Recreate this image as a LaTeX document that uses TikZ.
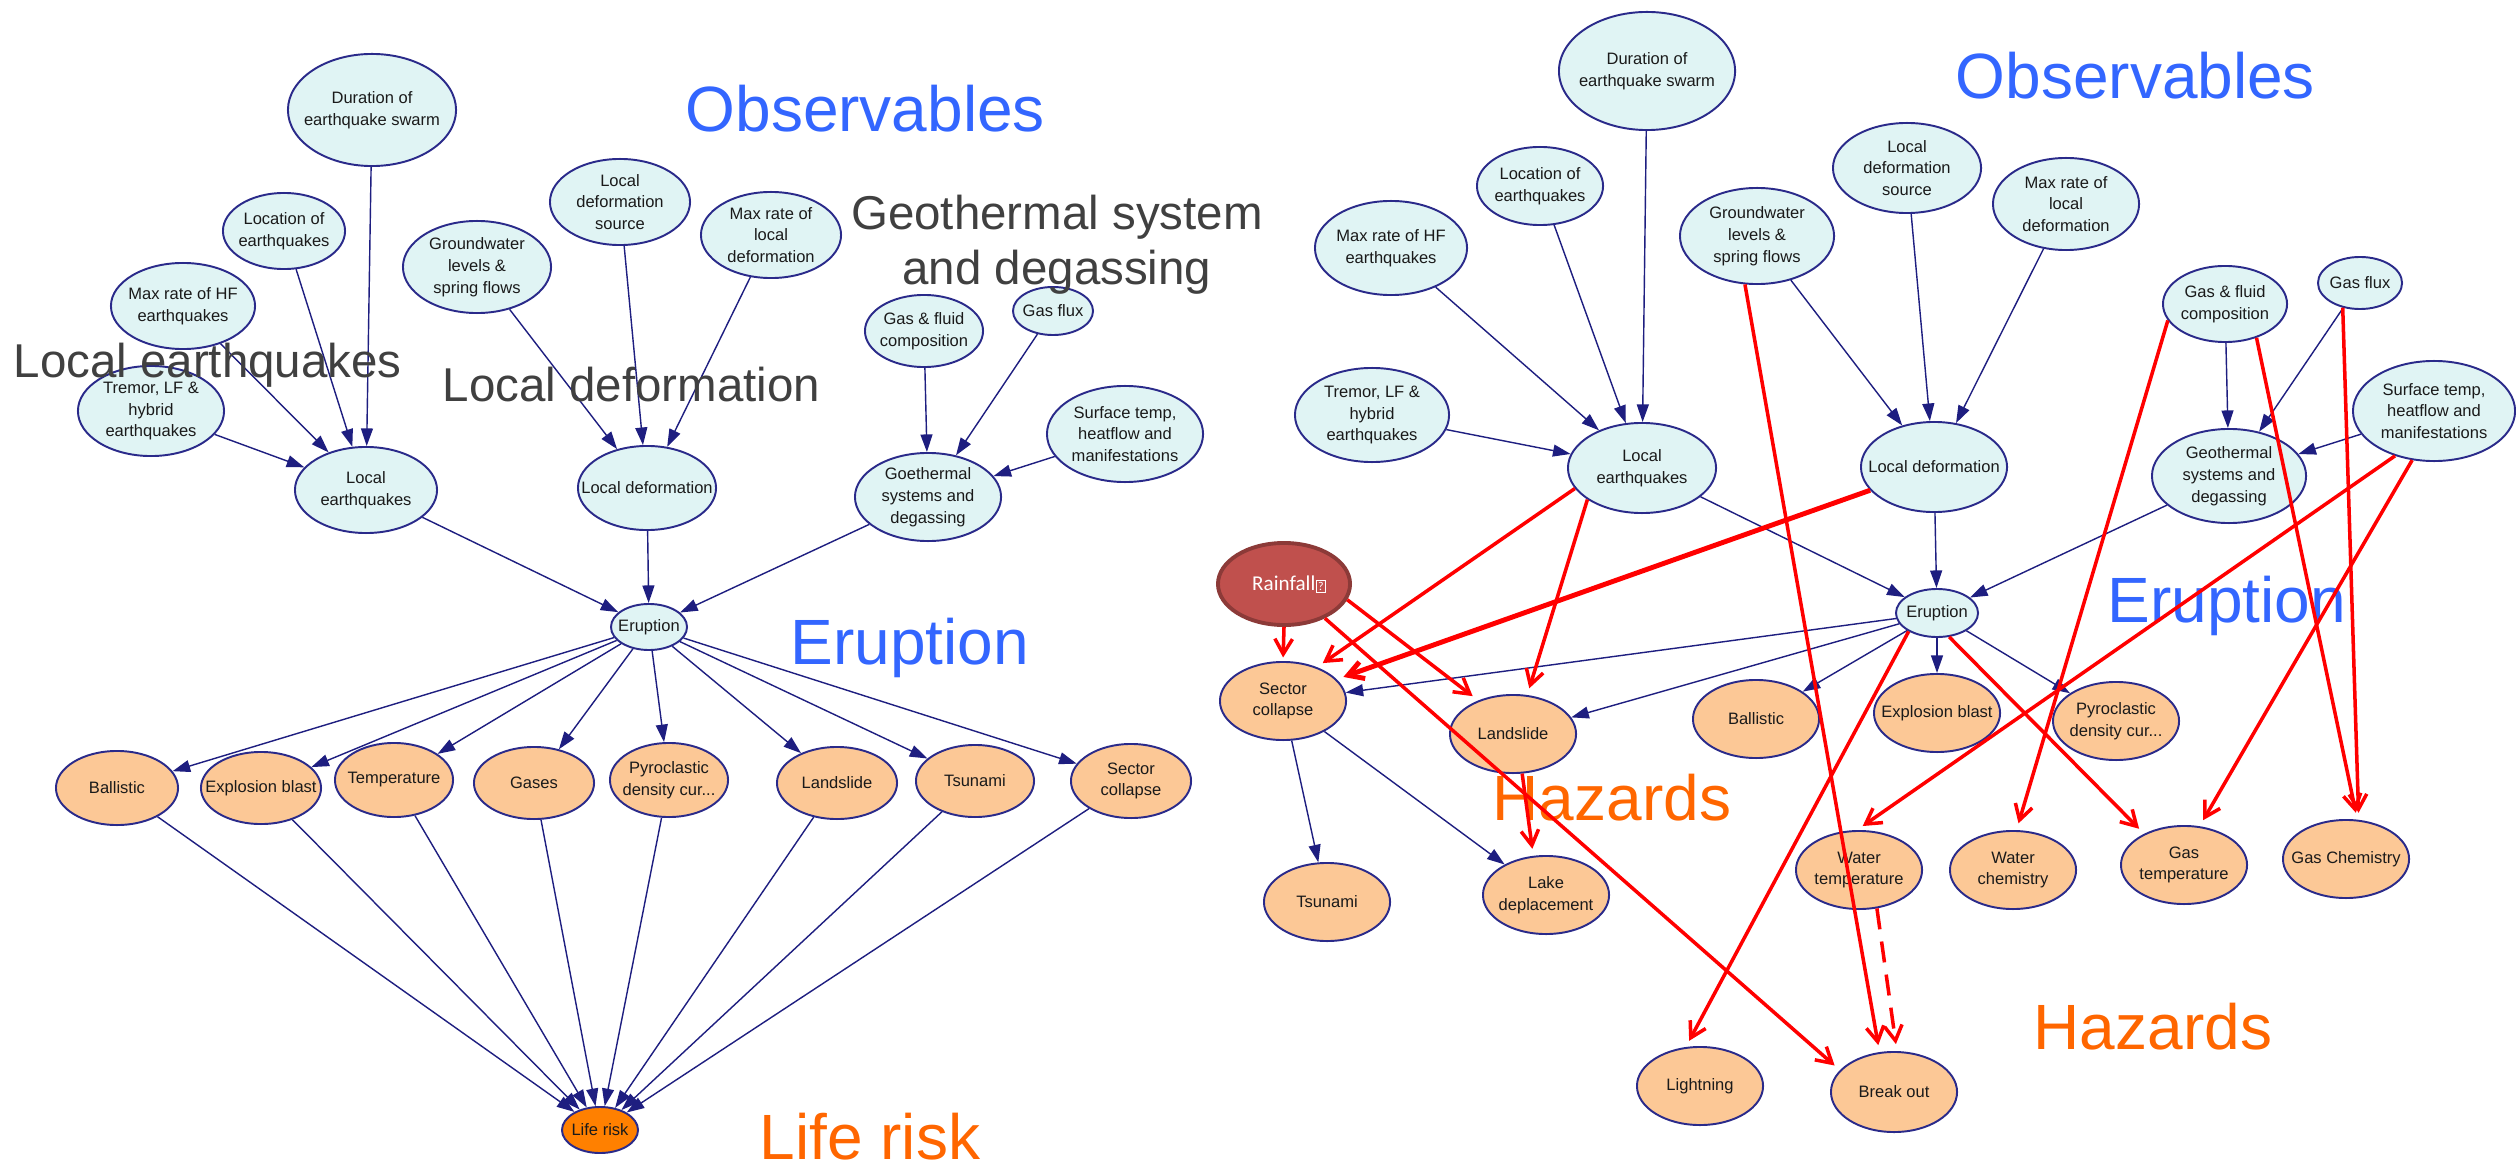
\documentclass[tikz,border=0pt]{standalone}
\usepackage{fontspec}
\setmainfont{Liberation Sans}
\newfontfamily\calibfont{Carlito}
\usetikzlibrary{shapes.geometric,arrows.meta}

\definecolor{obsfill}{HTML}{E0F4F4}
\definecolor{hazfill}{HTML}{FCC896}
\definecolor{riskfill}{HTML}{FF8000}
\definecolor{edgenavy}{HTML}{1E1E80}
\definecolor{rimnavy}{HTML}{2A2A8A}
\definecolor{titleblue}{HTML}{3366FF}
\definecolor{titleorange}{HTML}{FF6600}
\definecolor{titlegray}{HTML}{404040}
\definecolor{rainfill}{HTML}{C0504D}
\definecolor{rainrim}{HTML}{8C3A38}
\definecolor{hotred}{HTML}{FF0000}
\definecolor{nodetext}{HTML}{1A1A1A}

\tikzset{
  bubble/.style={ellipse, draw=rimnavy, line width=0.55pt, inner sep=0pt},
  obs/.style={bubble, fill=obsfill},
  haz/.style={bubble, fill=hazfill},
  risk/.style={bubble, fill=riskfill},
  rainbub/.style={ellipse, draw=rainrim, line width=1.1pt, fill=rainfill, inner sep=0pt},
  nodetxt/.style={align=center, inner sep=0pt, text=nodetext,
                  font=\fontsize{4.7}{6.2}\selectfont},
  link/.style={draw=edgenavy, line width=0.4pt, -{Triangle[length=5pt,width=3.4pt]}},
  cause/.style={draw=hotred, line width=1pt,
                -{Straight Barb[length=4.3pt,width=5pt]}, shorten >=2pt},
  bigcause/.style={cause, line width=1.4pt},
  title/.style={anchor=base west, inner sep=0pt, font=\fontsize{18.2}{20}\selectfont},
  grouplabel/.style={inner sep=0pt, text=titlegray, font=\fontsize{13.5}{15}\selectfont},
}

% bubble with centred caption: style, name, x, y, rx, ry (pixels), text
\newcommand\bnode[7]{%
  \node[#1, minimum width=#5*0.02cm, minimum height=#6*0.02cm] (#2) at (#3,#4) {};
  \node[nodetxt] (#2-t) at (#2) {#7};}

\begin{document}
\begin{tikzpicture}[x=0.01cm,y=-0.01cm]
\fill[white] (0,0) rectangle (2516,1167);
\useasboundingbox (0,0) rectangle (2516,1167);

% ---------------- first network ----------------
\bnode{obs}{dur1}{372}{110}{84}{56}{Duration of\\earthquake swarm}
\bnode{obs}{loc1}{284}{231}{61}{38}{Location of\\earthquakes}
\bnode{obs}{mhf1}{183}{306}{72}{43}{Max rate of HF\\earthquakes}
\bnode{obs}{tre1}{151}{411}{73}{45}{Tremor, LF \&\\hybrid\\earthquakes}
\bnode{obs}{leq1}{366}{490}{71}{43}{Local\\earthquakes}
\bnode{obs}{gw1}{477}{267}{74}{46}{Groundwater\\levels \&\\spring flows}
\bnode{obs}{lds1}{620}{202}{70}{43}{Local\\deformation\\source}
\bnode{obs}{mld1}{771}{235}{70}{43}{Max rate of\\local\\deformation}
\bnode{obs}{ldf1}{647}{488}{69}{42}{Local deformation}
\bnode{obs}{gfc1}{924}{331}{59}{36}{Gas \& fluid\\composition}
\bnode{obs}{gfx1}{1053}{311}{40}{24}{Gas flux}
\bnode{obs}{sur1}{1125}{434}{78}{48}{Surface temp,\\heatflow and\\manifestations}
\bnode{obs}{geo1}{928}{497}{73}{44}{Goethermal\\systems and\\degassing}
\bnode{obs}{eru1}{649}{627}{38}{23}{Eruption}

\bnode{haz}{bal1}{117}{788}{61}{37}{Ballistic}
\bnode{haz}{exb1}{261}{788}{60}{36}{Explosion blast}
\bnode{haz}{tem1}{394}{780}{59}{37}{Temperature}
\bnode{haz}{gas1}{534}{783}{60}{36}{Gases}
\bnode{haz}{pdc1}{669}{780}{59}{37}{Pyroclastic\\density cur...}
\bnode{haz}{lsl1}{837}{783}{60}{36}{Landslide}
\bnode{haz}{tsu1}{975}{781}{59}{36}{Tsunami}
\bnode{haz}{sec1}{1131}{781}{60}{37}{Sector\\collapse}
\bnode{risk}{life}{600}{1130}{38}{23}{Life risk}

\foreach \a/\b in {dur1/leq1, loc1/leq1, mhf1/leq1, tre1/leq1,
                   gw1/ldf1, lds1/ldf1, mld1/ldf1,
                   gfc1/geo1, gfx1/geo1, sur1/geo1,
                   leq1/eru1, ldf1/eru1, geo1/eru1}
  \draw[link] (\a) -- (\b);
\foreach \h in {bal1, exb1, tem1, gas1, pdc1, lsl1, tsu1, sec1} {
  \draw[link] (eru1) -- (\h);
  \draw[link] (\h) -- (life);
}

% ---------------- second network ----------------
\bnode{obs}{dur2}{1647}{71}{88}{59}{Duration of\\earthquake swarm}
\bnode{obs}{loc2}{1540}{186}{63}{39}{Location of\\earthquakes}
\bnode{obs}{mhf2}{1391}{248}{76}{47}{Max rate of HF\\earthquakes}
\bnode{obs}{tre2}{1372}{415}{77}{47}{Tremor, LF \&\\hybrid\\earthquakes}
\bnode{obs}{leq2}{1642}{468}{74}{45}{Local\\earthquakes}
\bnode{obs}{gw2}{1757}{236}{77}{48}{Groundwater\\levels \&\\spring flows}
\bnode{obs}{lds2}{1907}{168}{74}{45}{Local\\deformation\\source}
\bnode{obs}{mld2}{2066}{204}{73}{46}{Max rate of\\local\\deformation}
\bnode{obs}{ldf2}{1934}{467}{73}{45}{Local deformation}
\bnode{obs}{gfc2}{2225}{304}{62}{38}{Gas \& fluid\\composition}
\bnode{obs}{gfx2}{2360}{283}{42}{26}{Gas flux}
\bnode{obs}{sur2}{2434}{411}{81}{50}{Surface temp,\\heatflow and\\manifestations}
\bnode{obs}{geo2}{2229}{476}{77}{47}{Geothermal\\systems and\\degassing}
\bnode{obs}{eru2}{1937}{613}{41}{24}{Eruption}

\node[rainbub, minimum width=1.32cm, minimum height=0.82cm] (rain) at (1284,584) {};
\node[inner sep=0pt, text=white, font=\calibfont\fontsize{6}{7}\selectfont] (rain-t) at (1289,584)
  {Rainfall\kern0.2pt\raisebox{-0.1pt}{\fboxsep=0.3pt\fboxrule=0.3pt\fbox{\fontsize{3.4}{3.4}\selectfont ?}}};

\bnode{haz}{sec2}{1283}{701}{63}{39}{Sector\\collapse}
\bnode{haz}{lsl2}{1513}{734}{63}{39}{Landslide}
\bnode{haz}{bal2}{1756}{719}{63}{39}{Ballistic}
\bnode{haz}{exb2}{1937}{713}{63}{39}{Explosion blast}
\bnode{haz}{pdc2}{2116}{721}{63}{39}{Pyroclastic\\density cur...}
\bnode{haz}{tsu2}{1327}{902}{63}{39}{Tsunami}
\bnode{haz}{lak2}{1546}{895}{63}{39}{Lake\\deplacement}
\bnode{haz}{wtm2}{1859}{870}{63}{39}{Water\\temperature}
\bnode{haz}{wch2}{2013}{870}{63}{39}{Water\\chemistry}
\bnode{haz}{gtm2}{2184}{865}{63}{39}{Gas\\temperature}
\bnode{haz}{gch2}{2346}{859}{63}{39}{Gas Chemistry}
\bnode{haz}{lig2}{1700}{1086}{63}{39}{Lightning}
\bnode{haz}{brk2}{1894}{1092}{63}{40}{Break out}

\foreach \a/\b in {dur2/leq2, loc2/leq2, mhf2/leq2, tre2/leq2,
                   gw2/ldf2, lds2/ldf2, mld2/ldf2,
                   gfc2/geo2, gfx2/geo2, sur2/geo2,
                   leq2/eru2, ldf2/eru2, geo2/eru2,
                   eru2/sec2, eru2/lsl2, eru2/bal2, eru2/exb2, eru2/pdc2,
                   sec2/tsu2, sec2/lak2}
  \draw[link] (\a) -- (\b);

% ---------------- headings ----------------
\node[title, text=titleblue] (obsA) at (685,132) {Observables};
\node[title, text=titleblue] (obsB) at (1955,99) {Observables};
\node[title, text=titleblue] (eruA) at (790,664) {Eruption};
\node[title, text=titleblue] (eruB) at (2107,622) {Eruption};
\node[title, text=titleorange] (riskA) at (759,1159) {Life risk};
\node[title, text=titleorange] (hazA) at (1492,820) {Hazards};
\node[title, text=titleorange] (hazB) at (2033,1049) {Hazards};
\node[grouplabel, anchor=base west] (grpEq) at (13,377) {Local earthquakes};
\node[grouplabel, anchor=base west] (grpDef) at (442,402) {Local deformation};
\node[grouplabel, anchor=base] (grpGeoA) at (1057,230) {Geothermal system};
\node[grouplabel, anchor=base] (grpGeoB) at (1057,285) {and degassing};

% ---------------- added causal links ----------------
\draw[cause, shorten >=1pt] (rain.south) -- (sec2.north);
\draw[cause] (rain.-14) -- (lsl2.136);
\draw[cause] (rain.-40) -- (brk2.158);
\draw[cause] (leq2.197) -- (sec2.45);
\draw[cause] (leq2.-150) -- (lsl2.70);
\draw[bigcause] (ldf2.-160) -- (sec2.22);
\draw[cause] (lsl2.-77) -- (lak2.108);
\draw[cause] (gw2.-104) -- (brk2.110);
\draw[cause] (eru2.-147) -- (lig2.110);
\draw[cause] (eru2.-63) -- (gtm2.142);
\draw[cause] (gfc2.-164) -- (wch2.85);
\draw[cause] (gfc2.-47) -- (gch2.74);
\draw[cause] (gfx2.-125) -- (gch2.72);
\draw[cause] (sur2.-131) -- (wtm2.93);
\draw[cause] (sur2.-114) -- (gtm2.68);
\draw[cause, dashed, dash pattern=on 6pt off 3.5pt] (wtm2.-65) -- (brk2.86);
\end{tikzpicture}
\end{document}
